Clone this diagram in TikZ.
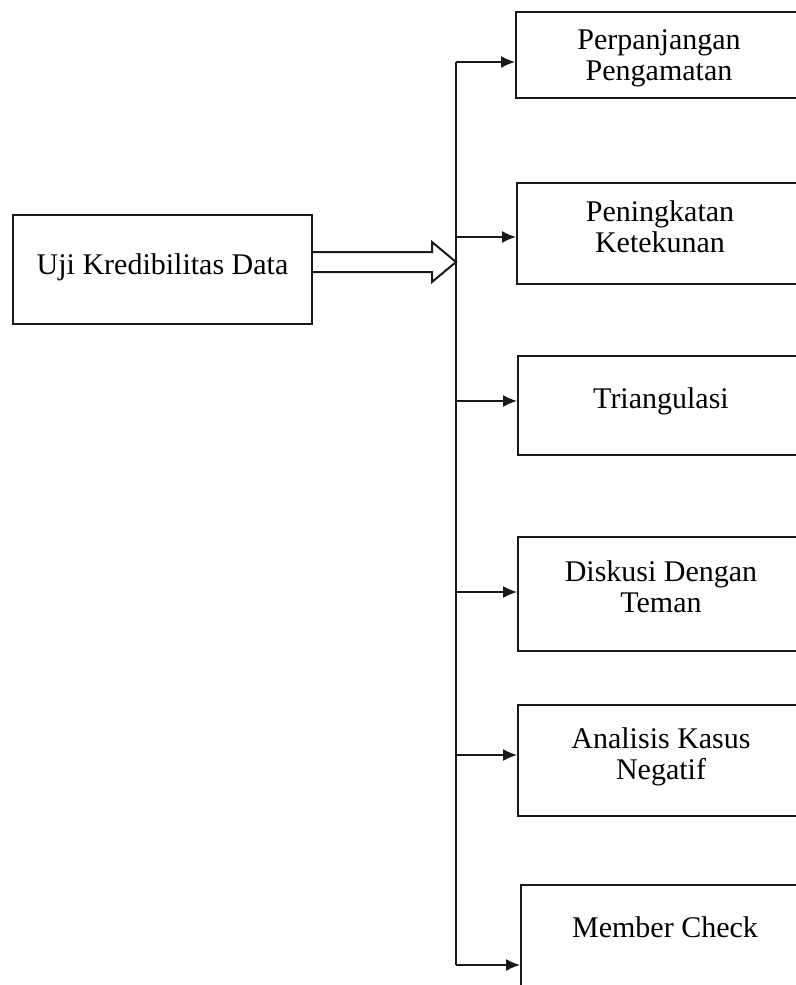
\documentclass[tikz,border=0pt]{standalone}
\usepackage{fontspec}
\setmainfont{Liberation Serif}
\usetikzlibrary{arrows.meta,calc}
\definecolor{inkBlack}{RGB}{25,25,25}
\tikzset{
  box/.style={draw=inkBlack,line width=1pt,align=center,text=black,font=\fontsize{15}{15.5}\selectfont,inner sep=0pt},
  item box/.style={box,anchor=west,minimum width=143pt},
  branch arrow/.style={-{Latex[length=7pt,width=6pt]},line width=0.7pt,draw=inkBlack},
  trunk line/.style={line width=0.7pt,draw=inkBlack},
  fat arrow/.style={line width=1pt,draw=inkBlack,line join=miter}
}

\begin{document}
\begin{tikzpicture}[x=0.5pt,y=-0.5pt]
    \useasboundingbox (0,0) rectangle (796,985);
    \clip (0,0) rectangle (796,985);
    \node[box,minimum width=149.5pt,minimum height=54.5pt,text depth=5.3pt] (src) at (162.5,269.5) {Uji Kredibilitas Data};
    \node[item box,minimum height=43pt,text depth=0pt] (perpanjangan) at (515,55) {Perpanjangan\\Pengamatan};
    \node[item box,minimum height=50.5pt,text depth=7pt] (peningkatan) at (516,233.5) {Peningkatan\\Ketekunan};
    \node[item box,minimum height=49.5pt,text depth=7.3pt] (triangulasi) at (517,405.5) {Triangulasi};
    \node[item box,minimum height=57pt,text depth=7pt] (diskusi) at (517,594) {Diskusi Dengan\\Teman};
    \node[item box,minimum height=55.5pt,text depth=7.3pt] (analisis) at (517,760.5) {Analisis Kasus\\Negatif};
    \node[item box,minimum width=144pt,minimum height=62.5pt,text depth=20pt] (member) at (520,947.5) {Member Check};
    % trunk
    \coordinate (tip) at (456,262);
    \coordinate (t1) at (456,62);
    \coordinate (t2) at (456,237);
    \coordinate (t3) at (456,401);
    \coordinate (t4) at (456,592);
    \coordinate (t5) at (456,755);
    \coordinate (t6) at (456,965);
    \draw[trunk line] (t1) -- (t6);
    \draw[fat arrow] (src.east |- 0,252) -- (432,252) -- (432,242) -- (tip) -- (432,282) -- (432,272) -- (src.east |- 0,272);
    \draw[branch arrow] (t1) -- (t1 -| perpanjangan.west);
    \draw[branch arrow] (t2) -- (t2 -| peningkatan.west);
    \draw[branch arrow] (t3) -- (t3 -| triangulasi.west);
    \draw[branch arrow] (t4) -- (t4 -| diskusi.west);
    \draw[branch arrow] (t5) -- (t5 -| analisis.west);
    \draw[branch arrow] (t6) -- (t6 -| member.west);
  \end{tikzpicture}
\end{document}
